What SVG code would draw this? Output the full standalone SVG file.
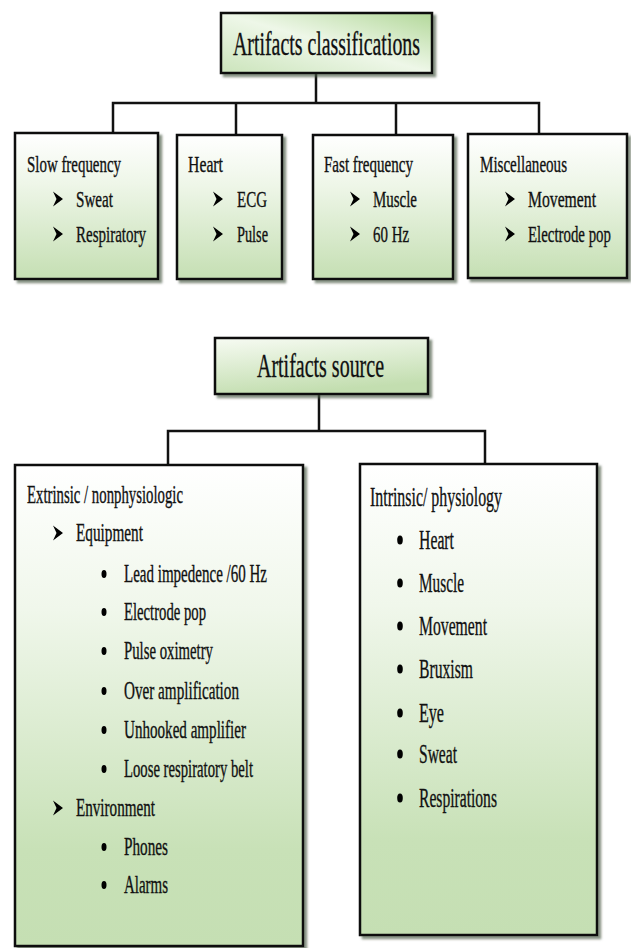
<svg xmlns="http://www.w3.org/2000/svg" width="631" height="948" viewBox="0 0 631 948">
<defs>
<linearGradient id="gBox" x1="0" y1="0" x2="0" y2="1">
<stop offset="0" stop-color="#ffffff"/>
<stop offset="0.35" stop-color="#eef6e8"/>
<stop offset="1" stop-color="#c5dfb3"/>
</linearGradient>
<linearGradient id="gBig" x1="0" y1="0" x2="0" y2="1">
<stop offset="0" stop-color="#ffffff"/>
<stop offset="0.3" stop-color="#f0f7eb"/>
<stop offset="0.8" stop-color="#c8e1b7"/>
<stop offset="1" stop-color="#c5dfb3"/>
</linearGradient>
<linearGradient id="gTitle1" x1="1" y1="0" x2="0" y2="1">
<stop offset="0" stop-color="#b3d89a"/>
<stop offset="0.5" stop-color="#eef7e8"/>
<stop offset="1" stop-color="#cbe4bb"/>
</linearGradient>
<linearGradient id="gTitle2" x1="0" y1="0" x2="0.3" y2="1">
<stop offset="0" stop-color="#f7fbf3"/>
<stop offset="1" stop-color="#c3deb0"/>
</linearGradient>
<filter id="sh" x="-10%" y="-10%" width="130%" height="130%">
<feDropShadow dx="3" dy="3" stdDeviation="1.2" flood-color="#4a5a44" flood-opacity="0.65"/>
</filter>
<path id="arr" d="M0,-7.5 L10,0 L0,7.5 L3.5,0 Z"/>
<style>
.box{stroke:#111;stroke-width:2.5;filter:url(#sh)}
.t{font-family:"Liberation Serif","Times New Roman",serif;fill:#111;stroke:#111;stroke-width:0.35}
.s24{font-size:24px}
.s25{font-size:25px}
.s28{font-size:28px}
.s34{font-size:34px}
.con{fill:none;stroke:#111;stroke-width:2.5}
</style>
</defs>
<rect width="631" height="948" fill="#ffffff"/>

<g id="connectors">
<path class="con" d="M316,73 V103 M113,133 V103 H539 V134 M236,103 V135 M396,103 V135"/>
<path class="con" d="M319,394 V431 M168,465 V431 H485 V464"/>
</g>

<g id="title-classifications">
<rect class="box" x="221" y="13" width="211" height="60" fill="url(#gTitle1)" stroke-width="3"/>
<text class="t s34" x="233" y="55" textLength="187" lengthAdjust="spacingAndGlyphs">Artifacts classifications</text>
</g>

<g id="slow-frequency">
<rect class="box" x="15" y="133" width="143" height="146" fill="url(#gBox)"/>
<text class="t s24" x="27" y="172" textLength="94" lengthAdjust="spacingAndGlyphs">Slow frequency</text>
<use href="#arr" x="53" y="199"/>
<text class="t s24" x="76" y="207" textLength="37" lengthAdjust="spacingAndGlyphs">Sweat</text>
<use href="#arr" x="53" y="234"/>
<text class="t s24" x="76" y="242" textLength="70" lengthAdjust="spacingAndGlyphs">Respiratory</text>
</g>

<g id="heart">
<rect class="box" x="177" y="135" width="105" height="144" fill="url(#gBox)"/>
<text class="t s24" x="188" y="172" textLength="35" lengthAdjust="spacingAndGlyphs">Heart</text>
<use href="#arr" x="213" y="199"/>
<text class="t s24" x="237" y="207" textLength="30" lengthAdjust="spacingAndGlyphs">ECG</text>
<use href="#arr" x="213" y="234"/>
<text class="t s24" x="237" y="242" textLength="31" lengthAdjust="spacingAndGlyphs">Pulse</text>
</g>

<g id="fast-frequency">
<rect class="box" x="313" y="135" width="140" height="144" fill="url(#gBox)"/>
<text class="t s24" x="324" y="172" textLength="89" lengthAdjust="spacingAndGlyphs">Fast frequency</text>
<use href="#arr" x="350" y="199"/>
<text class="t s24" x="373" y="207" textLength="44" lengthAdjust="spacingAndGlyphs">Muscle</text>
<use href="#arr" x="350" y="234"/>
<text class="t s24" x="373" y="242" textLength="36" lengthAdjust="spacingAndGlyphs">60 Hz</text>
</g>

<g id="miscellaneous">
<rect class="box" x="468" y="134" width="159" height="144" fill="url(#gBox)" stroke-width="4"/>
<text class="t s24" x="480" y="172" textLength="87" lengthAdjust="spacingAndGlyphs">Miscellaneous</text>
<use href="#arr" x="505" y="199"/>
<text class="t s24" x="528" y="207" textLength="68" lengthAdjust="spacingAndGlyphs">Movement</text>
<use href="#arr" x="505" y="234"/>
<text class="t s24" x="528" y="242" textLength="83" lengthAdjust="spacingAndGlyphs">Electrode pop</text>
</g>

<g id="title-source">
<rect class="box" x="215" y="338" width="213" height="56" fill="url(#gTitle2)" stroke-width="3"/>
<text class="t s34" x="257" y="377" textLength="127" lengthAdjust="spacingAndGlyphs">Artifacts source</text>
</g>

<g id="extrinsic">
<rect class="box" x="15" y="465" width="288" height="481" fill="url(#gBig)"/>
<text class="t s25" x="27" y="503" textLength="156" lengthAdjust="spacingAndGlyphs">Extrinsic / nonphysiologic</text>
<use href="#arr" x="53" y="533"/>
<text class="t s25" x="76" y="541" textLength="67" lengthAdjust="spacingAndGlyphs">Equipment</text>
<ellipse cx="104" cy="574" rx="2.5" ry="4"/>
<text class="t s25" x="124" y="582" textLength="143" lengthAdjust="spacingAndGlyphs">Lead impedence /60 Hz</text>
<ellipse cx="104" cy="612" rx="2.5" ry="4"/>
<text class="t s25" x="124" y="620" textLength="82" lengthAdjust="spacingAndGlyphs">Electrode pop</text>
<ellipse cx="104" cy="651" rx="2.5" ry="4"/>
<text class="t s25" x="124" y="659" textLength="89" lengthAdjust="spacingAndGlyphs">Pulse oximetry</text>
<ellipse cx="104" cy="691" rx="2.5" ry="4"/>
<text class="t s25" x="124" y="699" textLength="115" lengthAdjust="spacingAndGlyphs">Over amplification</text>
<ellipse cx="104" cy="730" rx="2.5" ry="4"/>
<text class="t s25" x="124" y="738" textLength="122" lengthAdjust="spacingAndGlyphs">Unhooked amplifier</text>
<ellipse cx="104" cy="769" rx="2.5" ry="4"/>
<text class="t s25" x="124" y="777" textLength="129" lengthAdjust="spacingAndGlyphs">Loose respiratory belt</text>
<use href="#arr" x="53" y="808"/>
<text class="t s25" x="76" y="816" textLength="79" lengthAdjust="spacingAndGlyphs">Environment</text>
<ellipse cx="104" cy="847" rx="2.5" ry="4"/>
<text class="t s25" x="124" y="855" textLength="44" lengthAdjust="spacingAndGlyphs">Phones</text>
<ellipse cx="104" cy="885" rx="2.5" ry="4"/>
<text class="t s25" x="124" y="893" textLength="44" lengthAdjust="spacingAndGlyphs">Alarms</text>
</g>

<g id="intrinsic">
<rect class="box" x="360" y="464" width="237" height="471" fill="url(#gBig)"/>
<text class="t s28" x="370" y="506" textLength="132" lengthAdjust="spacingAndGlyphs">Intrinsic/ physiology</text>
<ellipse cx="400" cy="540" rx="2.8" ry="4.5"/>
<text class="t s28" x="419" y="549" textLength="35" lengthAdjust="spacingAndGlyphs">Heart</text>
<ellipse cx="400" cy="583" rx="2.8" ry="4.5"/>
<text class="t s28" x="419" y="592" textLength="45" lengthAdjust="spacingAndGlyphs">Muscle</text>
<ellipse cx="400" cy="626" rx="2.8" ry="4.5"/>
<text class="t s28" x="419" y="635" textLength="68" lengthAdjust="spacingAndGlyphs">Movement</text>
<ellipse cx="400" cy="669" rx="2.8" ry="4.5"/>
<text class="t s28" x="419" y="678" textLength="54" lengthAdjust="spacingAndGlyphs">Bruxism</text>
<ellipse cx="400" cy="713" rx="2.8" ry="4.5"/>
<text class="t s28" x="419" y="722" textLength="25" lengthAdjust="spacingAndGlyphs">Eye</text>
<ellipse cx="400" cy="754" rx="2.8" ry="4.5"/>
<text class="t s28" x="419" y="763" textLength="38" lengthAdjust="spacingAndGlyphs">Sweat</text>
<ellipse cx="400" cy="798" rx="2.8" ry="4.5"/>
<text class="t s28" x="419" y="807" textLength="78" lengthAdjust="spacingAndGlyphs">Respirations</text>
</g>
</svg>
